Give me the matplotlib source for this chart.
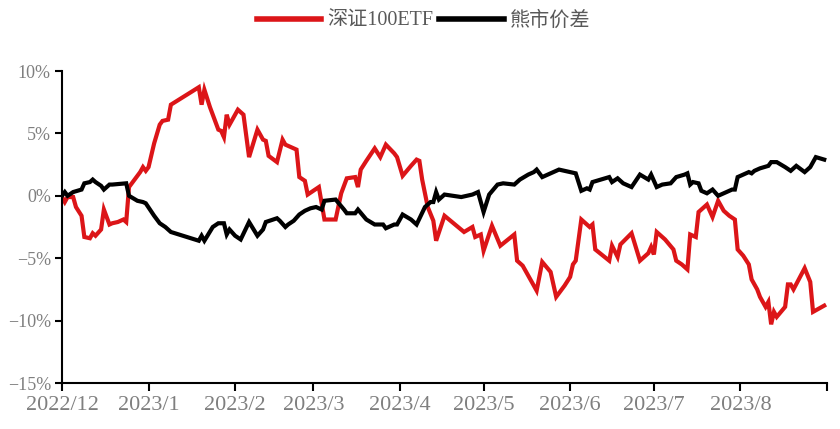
import matplotlib
matplotlib.use('Agg')
import matplotlib.pyplot as plt
import pandas as pd

series_names = ['深证100ETF', '熊市价差']

red_dates = [
    '2022-12-01', '2022-12-02', '2022-12-03', '2022-12-05', '2022-12-06', '2022-12-08', '2022-12-09',
    '2022-12-11', '2022-12-12', '2022-12-13', '2022-12-15', '2022-12-16', '2022-12-17', '2022-12-18',
    '2022-12-19', '2022-12-21', '2022-12-23', '2022-12-24', '2022-12-25', '2022-12-27', '2022-12-29',
    '2022-12-30', '2022-12-31', '2023-01-01', '2023-01-03', '2023-01-05', '2023-01-06', '2023-01-08',
    '2023-01-09', '2023-01-19', '2023-01-20', '2023-01-21', '2023-01-23', '2023-01-26', '2023-01-27',
    '2023-01-28', '2023-01-29', '2023-01-30', '2023-02-02', '2023-02-04', '2023-02-06', '2023-02-09',
    '2023-02-11', '2023-02-12', '2023-02-13', '2023-02-16', '2023-02-18', '2023-02-19', '2023-02-23',
    '2023-02-24', '2023-02-26', '2023-02-27', '2023-03-01', '2023-03-03', '2023-03-05', '2023-03-07',
    '2023-03-09', '2023-03-11', '2023-03-13', '2023-03-16', '2023-03-17', '2023-03-18', '2023-03-20',
    '2023-03-23', '2023-03-25', '2023-03-27', '2023-03-30', '2023-03-31', '2023-04-02', '2023-04-05',
    '2023-04-07', '2023-04-08', '2023-04-09', '2023-04-11', '2023-04-13', '2023-04-14', '2023-04-17',
    '2023-04-24', '2023-04-27', '2023-04-28', '2023-04-30', '2023-05-01', '2023-05-04', '2023-05-07',
    '2023-05-12', '2023-05-13', '2023-05-15', '2023-05-18', '2023-05-20', '2023-05-22', '2023-05-25',
    '2023-05-27', '2023-05-30', '2023-06-01', '2023-06-02', '2023-06-03', '2023-06-05', '2023-06-07',
    '2023-06-08', '2023-06-09', '2023-06-10', '2023-06-15', '2023-06-16', '2023-06-18', '2023-06-19',
    '2023-06-23', '2023-06-26', '2023-06-29', '2023-06-30', '2023-07-01', '2023-07-02', '2023-07-05',
    '2023-07-08', '2023-07-09', '2023-07-11', '2023-07-13', '2023-07-14', '2023-07-16', '2023-07-17',
    '2023-07-20', '2023-07-22', '2023-07-24', '2023-07-26', '2023-07-28', '2023-07-30', '2023-07-31',
    '2023-08-02', '2023-08-04', '2023-08-05', '2023-08-07', '2023-08-08', '2023-08-10', '2023-08-11',
    '2023-08-12', '2023-08-13', '2023-08-14', '2023-08-17', '2023-08-18', '2023-08-19', '2023-08-20',
    '2023-08-24', '2023-08-26', '2023-08-27', '2023-08-31',
]
red_values = [
    -0.1, -0.5, -0.1, -0.1, -0.9, -1.6, -3.3,
    -3.4, -3.0, -3.2, -2.7, -1.1, -1.7, -2.3,
    -2.2, -2.1, -1.9, -2.1, 0.7, 1.3, 1.9,
    2.3, 2.0, 2.3, 4.2, 5.7, 6.0, 6.1,
    7.3, 8.7, 7.3, 8.5, 7.1, 5.3, 5.2,
    4.7, 6.5, 5.7, 6.9, 6.5, 3.1, 5.3,
    4.5, 4.4, 3.2, 2.7, 4.5, 4.1, 3.7,
    1.5, 1.2, 0.1, 0.4, 0.7, -1.9, -1.9,
    -1.9, 0.2, 1.4, 1.5, 0.7, 2.1, 2.8,
    3.8, 3.1, 4.1, 3.4, 3.1, 1.6, 2.4,
    2.9, 2.8, 1.3, -0.9, -2.0, -3.6, -1.6,
    -2.9, -2.5, -3.3, -3.1, -4.4, -2.4, -4.0,
    -3.1, -5.2, -5.6, -6.8, -7.6, -5.3, -6.1,
    -8.1, -7.2, -6.5, -5.5, -5.2, -1.9, -2.3,
    -2.5, -2.3, -4.3, -5.2, -4.0, -4.9, -3.9,
    -3.0, -5.2, -4.6, -4.1, -4.7, -2.9, -3.5,
    -4.3, -5.2, -5.5, -5.9, -3.1, -3.3, -1.3,
    -0.7, -1.7, -0.4, -1.2, -1.6, -1.9, -4.3,
    -4.8, -5.5, -6.7, -7.5, -8.1, -8.9, -8.5,
    -10.3, -9.3, -9.7, -8.9, -7.1, -7.1, -7.5,
    -5.8, -6.9, -9.3, -8.8,
]

black_dates = [
    '2022-12-01', '2022-12-02', '2022-12-03', '2022-12-05', '2022-12-08', '2022-12-09', '2022-12-11',
    '2022-12-12', '2022-12-13', '2022-12-15', '2022-12-16', '2022-12-18', '2022-12-19', '2022-12-24',
    '2022-12-25', '2022-12-28', '2022-12-30', '2022-12-31', '2023-01-03', '2023-01-05', '2023-01-07',
    '2023-01-09', '2023-01-19', '2023-01-20', '2023-01-21', '2023-01-24', '2023-01-26', '2023-01-28',
    '2023-01-29', '2023-01-30', '2023-02-01', '2023-02-03', '2023-02-06', '2023-02-09', '2023-02-11',
    '2023-02-12', '2023-02-16', '2023-02-17', '2023-02-19', '2023-02-20', '2023-02-22', '2023-02-24',
    '2023-02-26', '2023-02-28', '2023-03-02', '2023-03-04', '2023-03-05', '2023-03-09', '2023-03-12',
    '2023-03-13', '2023-03-16', '2023-03-17', '2023-03-20', '2023-03-23', '2023-03-26', '2023-03-27',
    '2023-03-30', '2023-03-31', '2023-04-02', '2023-04-05', '2023-04-07', '2023-04-10', '2023-04-12',
    '2023-04-13', '2023-04-14', '2023-04-15', '2023-04-17', '2023-04-23', '2023-04-27', '2023-04-29',
    '2023-05-01', '2023-05-03', '2023-05-06', '2023-05-08', '2023-05-12', '2023-05-14', '2023-05-17',
    '2023-05-19', '2023-05-20', '2023-05-22', '2023-05-24', '2023-05-26', '2023-05-28', '2023-06-03',
    '2023-06-05', '2023-06-07', '2023-06-08', '2023-06-09', '2023-06-12', '2023-06-15', '2023-06-16',
    '2023-06-18', '2023-06-20', '2023-06-23', '2023-06-26', '2023-06-29', '2023-06-30', '2023-07-02',
    '2023-07-04', '2023-07-07', '2023-07-09', '2023-07-12', '2023-07-13', '2023-07-14', '2023-07-15',
    '2023-07-17', '2023-07-18', '2023-07-20', '2023-07-22', '2023-07-24', '2023-07-29', '2023-07-30',
    '2023-07-31', '2023-08-02', '2023-08-04', '2023-08-05', '2023-08-06', '2023-08-08', '2023-08-11',
    '2023-08-12', '2023-08-14', '2023-08-17', '2023-08-19', '2023-08-21', '2023-08-24', '2023-08-26',
    '2023-08-28', '2023-08-31',
]
black_values = [
    0.0, 0.3, 0.0, 0.3, 0.5, 1.0, 1.1,
    1.3, 1.1, 0.8, 0.5, 0.9, 0.9, 1.0,
    0.0, -0.4, -0.5, -0.6, -1.6, -2.2, -2.5,
    -2.9, -3.6, -3.2, -3.6, -2.5, -2.2, -2.2,
    -3.1, -2.7, -3.2, -3.5, -2.1, -3.2, -2.7,
    -2.1, -1.8, -2.0, -2.5, -2.3, -2.0, -1.5,
    -1.2, -1.0, -0.9, -1.1, -0.4, -0.3, -1.1,
    -1.4, -1.4, -1.1, -1.9, -2.3, -2.3, -2.6,
    -2.3, -2.3, -1.5, -1.9, -2.3, -0.9, -0.5,
    -0.5, 0.3, -0.3, 0.1, -0.1, 0.1, 0.3,
    -1.3, 0.1, 0.9, 1.0, 0.9, 1.3, 1.7,
    1.9, 2.1, 1.5, 1.7, 1.9, 2.1, 1.8,
    0.4, 0.6, 0.5, 1.1, 1.3, 1.5, 1.1,
    1.4, 1.0, 0.7, 1.7, 1.3, 1.7, 0.7,
    0.9, 1.0, 1.5, 1.7, 1.8, 0.9, 1.1,
    1.0, 0.4, 0.2, 0.5, 0.0, 0.5, 0.5,
    1.5, 1.7, 1.9, 1.8, 2.0, 2.2, 2.4,
    2.7, 2.7, 2.3, 2.0, 2.4, 1.9, 2.3,
    3.1, 2.9,
]

month_ticks = ['2022-12-01', '2023-01-01', '2023-02-01', '2023-03-01', '2023-04-01',
               '2023-05-01', '2023-06-01', '2023-07-01', '2023-08-01', '2023-09-01']
month_labels = ['2022/12', '2023/1', '2023/2', '2023/3', '2023/4',
                '2023/5', '2023/6', '2023/7', '2023/8', '']
y_ticks = [-15, -10, -5, 0, 5, 10]

RED = '#DC1518'
BLACK = '#000000'
TICK_GRAY = '#7F7F7F'
LEGEND_GRAY = '#595959'
LATIN = ['Liberation Serif', 'Noto Sans CJK SC']

fig = plt.figure(figsize=(8.4, 4.29), dpi=100)
ax = fig.add_axes([62 / 840, 1 - 383 / 429, (827 - 62) / 840, (383 - 71) / 429])

ax.plot(pd.to_datetime(red_dates), red_values, color=RED, lw=3.0,
        label=series_names[0], solid_joinstyle='miter')
ax.plot(pd.to_datetime(black_dates), black_values, color=BLACK, lw=3.0,
        label=series_names[1], solid_joinstyle='miter')

ax.set_xlim(pd.Timestamp(month_ticks[0]), pd.Timestamp(month_ticks[-1]))
ax.set_ylim(min(y_ticks), max(y_ticks))

ax.set_xticks(pd.to_datetime(month_ticks))
ax.set_xticklabels(month_labels, fontsize=16, color=TICK_GRAY, family=LATIN)
ax.set_yticks(y_ticks)
ax.set_yticklabels([f"{v}%".replace('-', '\u2212') for v in y_ticks],
                   fontsize=13, color=TICK_GRAY, family=LATIN)

for side in ['top', 'right']:
    ax.spines[side].set_visible(False)
for side in ['left', 'bottom']:
    ax.spines[side].set_linewidth(1.5)
    ax.spines[side].set_color('black')
ax.tick_params(axis='x', direction='out', length=6, width=1.5, pad=3)
ax.tick_params(axis='y', direction='out', length=5, width=1.5, pad=3)

leg = fig.legend(loc='center', bbox_to_anchor=(0.504, 1 - 21 / 429), ncol=2, frameon=False,
                 handlelength=3.2, handletextpad=0.3, columnspacing=0.3,
                 prop={'family': LATIN, 'size': 14.5})
for t in leg.get_texts():
    t.set_color(LEGEND_GRAY)
for h in leg.get_lines():
    h.set_linewidth(4)

fig.savefig('out.png', dpi=100)
